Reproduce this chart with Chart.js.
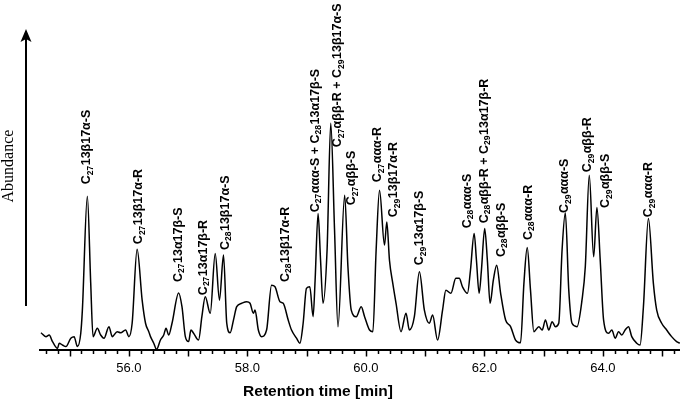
<!DOCTYPE html>
<html>
<head>
<meta charset="utf-8">
<script src="https://cdn.jsdelivr.net/npm/chart.js@4"></script>
<style>
  html, body { margin: 0; padding: 0; background: #fff; }
</style>
</head>
<body>
<canvas id="chromChart" width="685" height="405"></canvas>
<script>
// trace (time in min, abundance in relative units)
const retentionTime = [
  54.516, 54.600, 54.655, 54.711, 54.795, 54.824, 54.879, 54.936, 55.020, 55.076,
  55.131, 55.188, 55.215, 55.299, 55.356, 55.395, 55.467, 55.524, 55.580, 55.664,
  55.719, 55.803, 55.861, 55.945, 56.000, 56.055, 56.139, 56.224, 56.281, 56.336,
  56.365, 56.420, 56.466, 56.533, 56.588, 56.627, 56.672, 56.728, 56.840, 56.896,
  56.953, 57.008, 57.047, 57.092, 57.176, 57.232, 57.289, 57.373, 57.457, 57.529,
  57.597, 57.652, 57.709, 57.765, 57.820, 57.904, 57.988, 58.045, 58.101, 58.129,
  58.185, 58.240, 58.324, 58.408, 58.466, 58.550, 58.605, 58.689, 58.745, 58.829,
  58.886, 58.941, 58.997, 59.054, 59.109, 59.143, 59.193, 59.235, 59.277, 59.345,
  59.407, 59.471, 59.529, 59.642, 59.697, 59.753, 59.837, 59.921, 59.978, 60.062,
  60.118, 60.173, 60.230, 60.314, 60.353, 60.398, 60.454, 60.509, 60.593, 60.677,
  60.734, 60.818, 60.903, 60.987, 61.071, 61.126, 61.210, 61.294, 61.350, 61.434,
  61.518, 61.575, 61.630, 61.714, 61.765, 61.827, 61.866, 61.911, 61.950, 62.005,
  62.050, 62.096, 62.151, 62.207, 62.274, 62.358, 62.442, 62.526, 62.610, 62.667,
  62.723, 62.778, 62.835, 62.919, 62.975, 63.030, 63.087, 63.143, 63.198, 63.255,
  63.311, 63.366, 63.424, 63.479, 63.563, 63.647, 63.703, 63.770, 63.844, 63.899,
  63.955, 64.012, 64.096, 64.151, 64.207, 64.264, 64.319, 64.375, 64.432, 64.487,
  64.571, 64.627, 64.684, 64.768, 64.852, 64.908, 64.992, 65.076, 65.160, 65.244,
  65.299
];
const abundance = [
   7.6,  5.9,  6.6,  3.7,  0.7,  3.0,  2.2,  1.5,  5.2,  5.9,
   1.5,  7.4, 17.6, 67.8, 29.4,  5.9,  9.6,  6.6,  5.2, 10.3,
   5.9,  8.1,  7.6,  8.8,  5.9, 11.8, 44.4, 22.0, 11.8,  8.1,
   5.9,  3.0,  0.3,  4.4,  6.6,  9.6,  6.6, 11.8, 25.2, 19.1,
   5.9,  3.7,  8.8,  7.4,  4.4, 14.7, 23.5, 16.2, 42.6, 22.0,
  41.9, 11.8,  7.6, 13.2, 19.1, 20.6, 21.3, 20.6, 16.2, 17.6,
   8.8,  5.9,  8.8, 28.6, 27.9, 21.3, 20.6, 13.2,  8.8,  5.2,
   3.0, 11.8, 27.2, 27.9, 14.7, 30.8, 60.2, 39.6, 20.6, 44.1,
 100.0, 52.9, 10.3, 68.3, 36.7, 17.6, 14.7, 19.1, 14.7,  8.8,
   8.1, 44.1, 70.5, 46.3, 56.5, 39.6, 29.4, 20.6,  8.1, 16.2,
   8.8, 14.7, 34.5, 17.6, 11.8, 15.4,  4.4, 17.6, 26.4, 25.0,
  31.6, 31.6, 27.9, 25.0, 35.2, 51.4, 39.6, 25.0, 35.2, 53.6,
  39.6, 20.6, 30.8, 37.4, 25.0, 13.2, 10.3,  4.4,  3.2, 29.4,
  45.2, 26.4,  8.1, 10.3,  8.8, 13.2,  8.8, 12.5, 10.3, 11.8,
  44.1, 60.5, 26.4, 11.8, 10.3, 22.0, 36.7, 77.1, 41.1, 62.9,
  39.6, 13.2,  7.4,  8.8,  5.2,  8.1,  6.6,  8.8, 10.3,  5.9,
   3.0,  2.2, 19.1, 58.0, 29.4, 17.6, 11.8,  8.8,  5.9,  3.7,
   3.0
];

// peak annotations: name (_{..} = subscript), retention time, abundance at foot of label
const peakNames = [
  'C_{27}13β17α-S', 'C_{27}13β17α-R', 'C_{27}13α17β-S', 'C_{27}13α17β-R',
  'C_{28}13β17α-S', 'C_{28}13β17α-R', 'C_{27}ααα-S + C_{28}13α17β-S',
  'C_{27}αββ-R + C_{29}13β17α-S', 'C_{27}αββ-S', 'C_{27}ααα-R', 'C_{29}13β17α-R',
  'C_{29}13α17β-S', 'C_{28}ααα-S', 'C_{28}αββ-R + C_{29}13α17β-R', 'C_{28}αββ-S',
  'C_{28}ααα-R', 'C_{29}ααα-S', 'C_{29}αββ-R', 'C_{29}αββ-S', 'C_{29}ααα-R'
];
const peakTime = [
  55.294, 56.168, 56.840, 57.261, 57.630, 58.639, 59.143, 59.529, 59.765, 60.202,
  60.471, 60.908, 61.714, 62.000, 62.286, 62.739, 63.361, 63.748, 64.050, 64.773
];
const peakLabelBase = [
  73.1, 46.7, 30.0, 24.2, 44.1, 30.0, 60.8, 89.4, 63.9, 74.0,
  58.6, 37.4, 53.7, 55.9, 41.0, 48.5, 60.4, 78.4, 62.6, 58.6
];
const tickLabels = ['56.0', '58.0', '60.0', '62.0', '64.0'];

const points = retentionTime.map((t, i) => ({ x: t, y: abundance[i] }));

const annotations = {
  id: 'annotations',
  afterDraw(chart) {
    const ctx = chart.ctx;
    const xs = chart.scales.x, ys = chart.scales.y;
    const bottom = chart.chartArea.bottom;

    // tick marks, longer on whole minutes
    ctx.save();
    ctx.strokeStyle = '#000';
    ctx.lineWidth = 1.5;
    xs.ticks.forEach(t => {
      const px = Math.round(xs.getPixelForValue(t.value)) + 0.5;
      const major = Math.abs(t.value - Math.round(t.value)) < 1e-6;
      ctx.beginPath();
      ctx.moveTo(px, bottom);
      ctx.lineTo(px, bottom + (major ? 6.5 : 4));
      ctx.stroke();
    });
    ctx.restore();

    // axis title
    ctx.save();
    ctx.fillStyle = '#000';
    ctx.font = 'bold 15.5px "Liberation Sans", Arial, sans-serif';
    ctx.textAlign = 'center';
    ctx.textBaseline = 'middle';
    ctx.fillText('Retention time [min]', 318, 392);
    ctx.restore();

    // abundance arrow
    ctx.save();
    ctx.strokeStyle = '#000';
    ctx.fillStyle = '#000';
    ctx.lineWidth = 2;
    ctx.beginPath();
    ctx.moveTo(26, 306);
    ctx.lineTo(26, 38);
    ctx.stroke();
    ctx.beginPath();
    ctx.moveTo(26, 29);
    ctx.lineTo(20.5, 42);
    ctx.lineTo(26, 39);
    ctx.lineTo(31.5, 42);
    ctx.closePath();
    ctx.fill();
    ctx.translate(9, 166);
    ctx.rotate(-Math.PI / 2);
    ctx.font = '16px "Liberation Serif", "Times New Roman", serif';
    ctx.textAlign = 'center';
    ctx.textBaseline = 'middle';
    ctx.fillText('Abundance', 0, 0);
    ctx.restore();

    // peak labels, rotated, with subscripts
    peakNames.forEach((name, i) => {
      const px = xs.getPixelForValue(peakTime[i]);
      const py = ys.getPixelForValue(peakLabelBase[i]);
      const parts = name.split(/_\{([^}]*)\}/);
      ctx.save();
      ctx.translate(px, py);
      ctx.rotate(-Math.PI / 2);
      ctx.fillStyle = '#000';
      ctx.textBaseline = 'middle';
      ctx.textAlign = 'left';
      let cx = 0;
      parts.forEach((p, k) => {
        if (!p) return;
        const sub = k % 2 === 1;
        ctx.font = sub ? 'bold 8.5px "Liberation Sans", Arial, sans-serif'
                       : 'bold 12.5px "Liberation Sans", Arial, sans-serif';
        ctx.fillText(p, cx, sub ? 3.5 : 0);
        cx += ctx.measureText(p).width + (sub ? 0.5 : 0);
      });
      ctx.restore();
    });
  }
};

new Chart(document.getElementById('chromChart'), {
  type: 'line',
  data: {
    datasets: [{
      data: points,
      borderColor: '#000',
      borderWidth: 1.5,
      pointRadius: 0,
      fill: false,
      cubicInterpolationMode: 'monotone'
    }]
  },
  options: {
    responsive: false,
    animation: false,
    events: [],
    layout: { padding: { left: 40, right: 0, top: 10, bottom: 0 } },
    plugins: { legend: { display: false }, tooltip: { enabled: false } },
    scales: {
      x: {
        type: 'linear',
        min: 54.5,
        max: 65.3,
        border: { display: true, color: '#000', width: 2 },
        grid: { display: true, drawOnChartArea: false, drawTicks: false },
        afterBuildTicks: s => {
          const ticks = [];
          for (let i = 273; i <= 326; i++) ticks.push({ value: i / 5 });
          s.ticks = ticks;
        },
        afterFit: s => { s.height = 55; },
        ticks: {
          autoSkip: false,
          maxRotation: 0,
          padding: 11,
          color: '#000',
          font: { family: '"Liberation Sans", Arial, sans-serif', size: 13 },
          callback: v => {
            const s = Number(v).toFixed(1);
            return tickLabels.includes(s) ? s : '';
          }
        }
      },
      y: { display: false, min: 0, max: 150 }
    }
  },
  plugins: [annotations]
});
</script>
</body>
</html>
